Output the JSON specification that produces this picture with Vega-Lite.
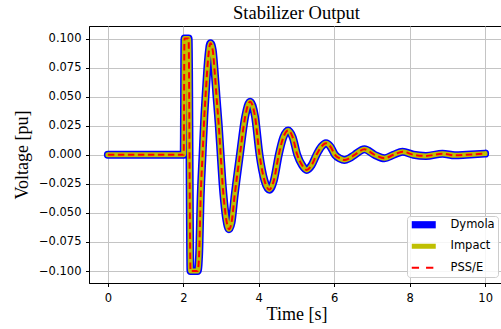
{
  "$schema": "https://vega.github.io/schema/vega-lite/v6.json",
  "width": 415,
  "height": 257,
  "autosize": "none",
  "padding": {"left": 89, "top": 26, "right": 0, "bottom": 46},
  "background": "white",
  "title": {"text": "Stabilizer Output", "font": "Liberation Serif", "fontSize": 18.5, "fontWeight": "normal", "color": "black", "offset": 4, "anchor": "middle"},
  "data": {"values": [
    {"t": 0, "v": 0}, {"t": 1.0, "v": 0}, {"t": 2.01, "v": 0}, {"t": 2.03, "v": 0.1}, {"t": 2.14, "v": 0.1},
    {"t": 2.19, "v": -0.1}, {"t": 2.38, "v": -0.1}, {"t": 2.42, "v": -0.085}, {"t": 2.46, "v": -0.036},
    {"t": 2.51, "v": 0}, {"t": 2.56, "v": 0.035}, {"t": 2.6, "v": 0.056}, {"t": 2.65, "v": 0.08},
    {"t": 2.72, "v": 0.096}, {"t": 2.78, "v": 0.09}, {"t": 2.83, "v": 0.072}, {"t": 2.88, "v": 0.05},
    {"t": 2.94, "v": 0.025}, {"t": 2.99, "v": 0}, {"t": 3.04, "v": -0.025}, {"t": 3.08, "v": -0.04},
    {"t": 3.14, "v": -0.056}, {"t": 3.21, "v": -0.064}, {"t": 3.28, "v": -0.058}, {"t": 3.36, "v": -0.035},
    {"t": 3.5, "v": 0}, {"t": 3.64, "v": 0.033}, {"t": 3.77, "v": 0.0457}, {"t": 3.9, "v": 0.033},
    {"t": 4.02, "v": 0}, {"t": 4.15, "v": -0.022}, {"t": 4.28, "v": -0.03}, {"t": 4.4, "v": -0.022},
    {"t": 4.53, "v": 0}, {"t": 4.65, "v": 0.015}, {"t": 4.78, "v": 0.021}, {"t": 4.9, "v": 0.015},
    {"t": 5.02, "v": 0}, {"t": 5.15, "v": -0.009}, {"t": 5.27, "v": -0.013}, {"t": 5.4, "v": -0.009},
    {"t": 5.53, "v": 0}, {"t": 5.66, "v": 0.007}, {"t": 5.78, "v": 0.0099}, {"t": 5.9, "v": 0.007},
    {"t": 6.02, "v": 0}, {"t": 6.15, "v": -0.0032}, {"t": 6.27, "v": -0.0045}, {"t": 6.4, "v": -0.003},
    {"t": 6.54, "v": 0}, {"t": 6.8, "v": 0.0047}, {"t": 7.07, "v": 0}, {"t": 7.33, "v": -0.003},
    {"t": 7.57, "v": 0}, {"t": 7.81, "v": 0.0027}, {"t": 8.1, "v": 0}, {"t": 8.43, "v": -0.001},
    {"t": 8.87, "v": 0.001}, {"t": 9.2, "v": -0.0005}, {"t": 9.5, "v": 0}, {"t": 10.0, "v": 0.001}
  ]},
  "encoding": {
    "x": {"field": "t", "type": "quantitative",
      "scale": {"domain": [-0.5, 10.5], "nice": false, "zero": false},
      "axis": {"title": "Time [s]", "values": [0, 2, 4, 6, 8, 10], "labelFlush": false, "labelPadding": 6, "titlePadding": 1}},
    "y": {"field": "v", "type": "quantitative",
      "scale": {"domain": [-0.1103, 0.1108], "nice": false, "zero": false},
      "axis": {"title": "Voltage [pu]", "values": [-0.1, -0.075, -0.05, -0.025, 0, 0.025, 0.05, 0.075, 0.1], "format": ".3f", "labelPadding": 4.5, "titlePadding": 7}},
    "color": {"datum": "Dymola", "type": "nominal",
      "scale": {"domain": ["Dymola", "Impact", "PSS/E"], "range": ["#0000ff", "#bfbf00", "#ff0000"]},
      "legend": {
        "title": null, "orient": "bottom-right", "offset": 6,
        "fillColor": "rgba(255,255,255,0.85)", "strokeColor": "#cccccc", "cornerRadius": 3, "padding": 3,
        "labelFont": "DejaVu Sans", "labelFontSize": 11.5, "labelColor": "black", "labelOffset": 21,
        "symbolType": "M-2,0H2", "symbolSize": 144, "symbolOffset": 8, "rowPadding": 4.5, "labelLimit": 200,
        "encode": {"symbols": {"update": {
          "shape": {"signal": "datum.value === 'Dymola' ? 'M-2,-0.6H2V0.6H-2Z' : 'M-2,0H2'"},
          "fill": {"signal": "datum.value === 'Dymola' ? '#0000ff' : 'transparent'"},
          "strokeWidth": {"signal": "datum.value === 'Dymola' ? 0 : (datum.value === 'Impact' ? 5 : 2)"},
          "strokeDash": {"signal": "datum.value === 'PSS/E' ? [7.3, 7] : [1, 0]"},
          "opacity": {"value": 1}
        }}}
      }}
  },
  "layer": [
    {"mark": {"type": "line", "strokeWidth": 8, "interpolate": "monotone", "strokeCap": "round", "strokeJoin": "round"},
     "encoding": {"color": {"datum": "Dymola", "type": "nominal"}}},
    {"mark": {"type": "line", "strokeWidth": 5, "interpolate": "monotone", "strokeCap": "round", "strokeJoin": "round"},
     "encoding": {"color": {"datum": "Impact", "type": "nominal"}}},
    {"mark": {"type": "line", "strokeWidth": 2, "interpolate": "monotone", "strokeDash": [6.5, 3.5]},
     "encoding": {"color": {"datum": "PSS/E", "type": "nominal"}}}
  ],
  "config": {
    "view": {"stroke": "black", "strokeWidth": 1},
    "axis": {
      "labelFont": "DejaVu Sans", "labelFontSize": 11.5, "labelColor": "black",
      "titleFont": "Liberation Serif", "titleFontSize": 18, "titleFontWeight": "normal", "titleColor": "black",
      "tickColor": "black", "tickSize": 3.5, "tickWidth": 1,
      "domainColor": "black", "domainWidth": 1,
      "grid": true, "gridColor": "#c4c4c4", "gridWidth": 1
    }
  }
}
